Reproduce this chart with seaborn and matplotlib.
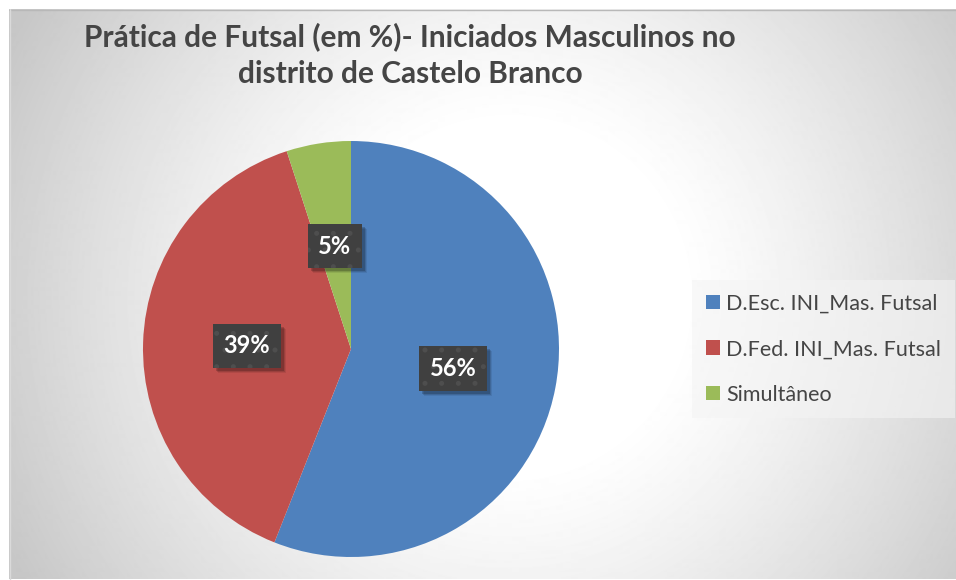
import numpy as np
import matplotlib
matplotlib.use("Agg")
import matplotlib.pyplot as plt
from matplotlib.patches import Patch, Rectangle
from matplotlib.transforms import IdentityTransform
import seaborn as sns

# Data
categories = ["D.Esc. INI_Mas. Futsal", "D.Fed. INI_Mas. Futsal", "Simultâneo"]
values = [56, 39, 5]
title = "Prática de Futsal (em %)- Iniciados Masculinos no\ndistrito de Castelo Branco"

sns.set_style("white")
plt.rcParams["font.family"] = ["Lato", "DejaVu Sans"]
plt.rcParams["hatch.color"] = "#4E4E4E"
plt.rcParams["hatch.linewidth"] = 1.2

colors = sns.color_palette(["#4F81BD", "#C0504D", "#9BBB59"])
text_color = "#454545"

fig = plt.figure(figsize=(9.56, 5.8), dpi=100)
fig.patch.set_facecolor("white")

# radial gradient background of the chart area
ax_bg = fig.add_axes([9 / 956, 0, 947 / 956, 571 / 580], zorder=0)
h, w = 571, 947
yy, xx = np.mgrid[0:h, 0:w]
d = np.sqrt((xx - 500) ** 2 + (yy - 290) ** 2)
t = np.clip((d - 170) / 390.0, 0, 1)
shade = 1.0 - 0.22 * t ** 1.2
ax_bg.imshow(shade, cmap="gray", vmin=0, vmax=1, aspect="auto", interpolation="bilinear")
ax_bg.set_axis_off()
ax_bg.plot([0, w], [0.5, 0.5], color="#B8B8B8", lw=1)
ax_bg.plot([0.5, 0.5], [0, h], color="#DADADA", lw=1)
ax_bg.set_xlim(0, w)
ax_bg.set_ylim(h, 0)

# Pie
ax = fig.add_axes([143 / 956, 23 / 580, 416 / 956, 416 / 580], zorder=1)
ax.patch.set_alpha(0)
wedges, texts, autotexts = ax.pie(
    values,
    colors=colors,
    startangle=90,
    counterclock=False,
    autopct="%.0f%%",
    pctdistance=0.5,
    wedgeprops=dict(linewidth=0),
    textprops=dict(color="white", fontsize=17, fontweight="bold", zorder=5),
)
ax.set_xlim(-1, 1)
ax.set_ylim(-1, 1)
ax.set_aspect("equal")
ax.set_autoscale_on(False)

for at in autotexts:
    at.set_bbox(dict(boxstyle="square,pad=0.45", facecolor="#404040",
                     edgecolor="#4E4E4E", linewidth=0, hatch="."))

# soft shadow behind the label boxes
fig.canvas.draw()
for at in autotexts:
    bb = at.get_bbox_patch().get_window_extent()
    for k, a in [(5, 0.08), (4, 0.12), (3, 0.18)]:
        ax.add_patch(Rectangle((bb.x0 + k, bb.y0 - k), bb.width, bb.height,
                               transform=IdentityTransform(), facecolor="black",
                               alpha=a, linewidth=0, zorder=4))

# Title
fig.text(410 / 956, 1 - 55 / 580, title, ha="center", va="center",
         fontsize=21.5, fontweight="bold", color=text_color, linespacing=1.35)

# Legend
handles = [Patch(facecolor=c, edgecolor="none") for c in colors]
leg = fig.legend(handles, categories, loc="upper left",
                 bbox_to_anchor=(692 / 956, 1 - 280 / 580),
                 frameon=True, fontsize=15.5, labelcolor=text_color,
                 handlelength=0.65, handleheight=0.65, handletextpad=0.3,
                 labelspacing=1.18, borderpad=0.64, borderaxespad=0, fancybox=False)
leg.get_frame().set_facecolor("#F4F4F4")
leg.get_frame().set_alpha(0.6)
leg.get_frame().set_edgecolor("none")

fig.savefig("out.png", dpi=100)
